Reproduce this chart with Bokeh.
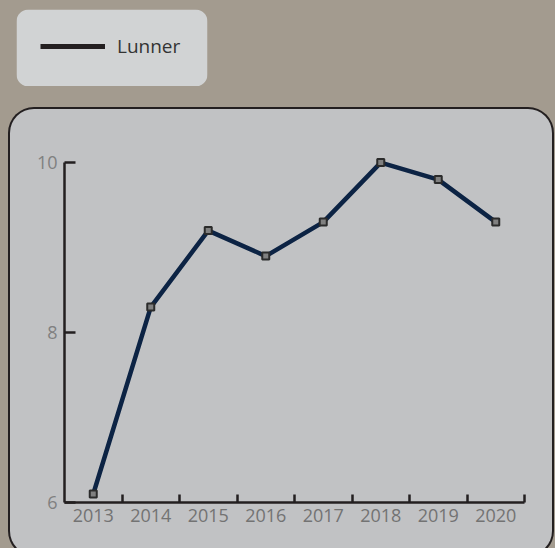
import numpy as np
from bokeh.plotting import figure
from bokeh.models import Range1d, FixedTicker, Legend, LegendItem, LinearAxis, BoxAnnotation
from bokeh.layouts import column
from bokeh.embed import file_html
from bokeh.resources import INLINE

years = ["2013", "2014", "2015", "2016", "2017", "2018", "2019", "2020"]
values = [6.1, 8.3, 9.2, 8.9, 9.3, 10.0, 9.8, 9.3]
y_ticks = [6, 8, 10]
series_name = "Lunner"

x = [i + 0.5 for i in range(len(years))]
boundaries = list(range(1, len(years) + 1))

PAGE_BG = "#a39b8f"
PANEL = "#c1c2c4"
LEGEND_BG = "#d1d3d4"
DARK = "#231f20"
LINE = "#0c2344"
FONT = "Open Sans"

BL, BR = 54, 28  # main frame borders (column aligns these across children)

# ---- legend box: small figure whose frame is the legend box ----
lg = figure(width=BL + 191 + BR, height=77, output_backend="svg", toolbar_location=None,
            x_axis_type=None, y_axis_type=None,
            min_border_left=BL, min_border_right=BR, min_border_top=0, min_border_bottom=0,
            margin=(9, 0, 0, 16 - BL))
lg.background_fill_color = None
lg.border_fill_color = None
lg.outline_line_color = None
lg.add_layout(BoxAnnotation(left=0, right=191, bottom=0, top=77,
                            left_units="screen", right_units="screen",
                            top_units="screen", bottom_units="screen",
                            fill_color=LEGEND_BG, fill_alpha=1, line_color=None,
                            border_radius=12, level="underlay"))
# legend proxy: a line with a single missing point (nothing drawn in the box itself)
proxy = lg.line(x=np.array([np.nan]), y=np.array([np.nan]), line_color=DARK, line_width=5)
legend = Legend(items=[LegendItem(label=series_name, renderers=[proxy])], location=(24, 27),
                border_line_color=None, background_fill_alpha=0, padding=0, margin=0, spacing=0,
                glyph_width=65, glyph_height=20, label_height=20, label_standoff=12,
                label_text_font_size="19px", label_text_color="#333333", label_text_font=FONT)
lg.add_layout(legend)

# ---- main panel ----
y_min, y_max = y_ticks[0], y_ticks[-1]
p = figure(width=542, height=446, output_backend="svg", toolbar_location=None,
           x_range=Range1d(0, len(years)), y_range=Range1d(y_min, y_max + 0.06),
           x_axis_type=None, y_axis_type=None,
           min_border_left=BL, min_border_right=BR, min_border_top=48, min_border_bottom=53,
           margin=(23, 0, 0, 10))
p.background_fill_color = None
p.border_fill_color = None
p.outline_line_color = None
p.styles = {"border-radius": "24px", "overflow": "hidden", "background-color": PANEL,
            "box-shadow": "0 0 0 2px %s" % DARK}

p.line(x, values, line_color=LINE, line_width=4.5)
p.scatter(x, values, marker="square", size=7, fill_color="#808080", line_color="#2b2b2b", line_width=2)

xa = LinearAxis(ticker=FixedTicker(ticks=x, minor_ticks=boundaries),
                major_label_overrides={xi: yr for xi, yr in zip(x, years)},
                major_tick_in=0, major_tick_out=0, minor_tick_in=8, minor_tick_out=0,
                minor_tick_line_color=DARK, minor_tick_line_width=2.5,
                axis_line_color=DARK, axis_line_width=2.5,
                major_label_text_font_size="18px", major_label_text_color="#737373",
                major_label_standoff=6, major_label_text_font=FONT)
p.add_layout(xa, "below")

ya = LinearAxis(ticker=FixedTicker(ticks=y_ticks, minor_ticks=[]), bounds=(y_min, y_max),
                major_tick_in=11, major_tick_out=0, major_tick_line_color=DARK, major_tick_line_width=2.5,
                minor_tick_in=0, minor_tick_out=0,
                axis_line_color=DARK, axis_line_width=2.5,
                major_label_text_font_size="18px", major_label_text_color="#808080",
                major_label_standoff=7, major_label_text_font=FONT)
p.add_layout(ya, "left")

layout = column(lg, p, spacing=0)

html = file_html(layout, INLINE)
html = html.replace("</head>", "<style>html,body{background:%s;overflow:hidden;}</style></head>" % PAGE_BG, 1)
open("out.html", "w").write(html)
